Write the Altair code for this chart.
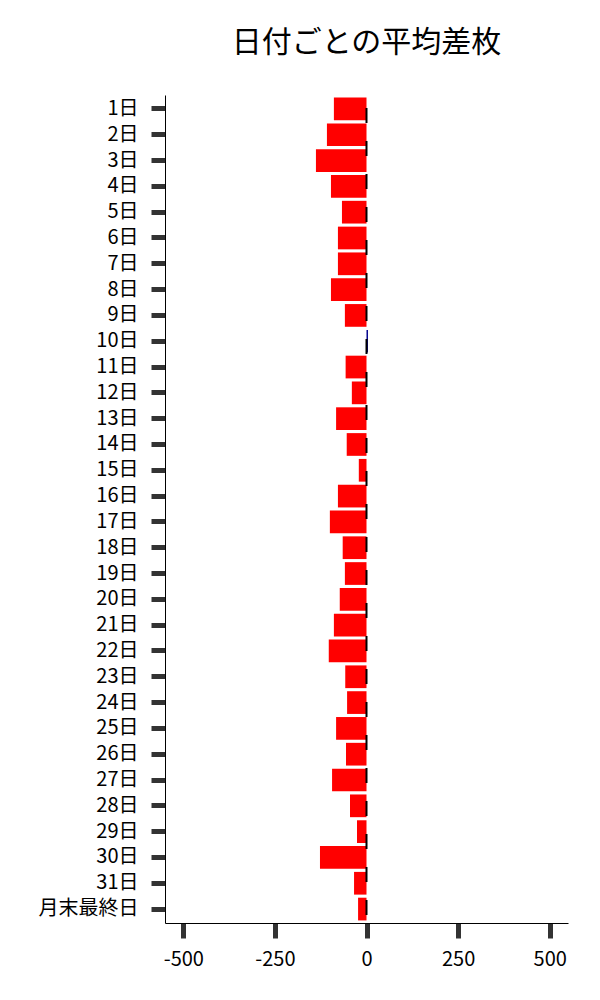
import altair as alt
import pandas as pd

days = [f"{i}日" for i in range(1, 32)] + ["月末最終日"]
values = [-89, -108, -138, -97, -67, -78, -78, -97, -59, 4,
          -57, -40, -83, -54, -21, -78, -100, -65, -59, -73,
          -89, -103, -58, -53, -83, -56, -94, -45, -26, -127,
          -34, -23]
x_ticks = [-500, -250, 0, 250, 500]

df = pd.DataFrame({"day": days, "value": values})
zero = pd.DataFrame({"x": [0]})

FONT = "Noto Sans CJK JP"

bars = alt.Chart(df).mark_bar().encode(
    y=alt.Y("day:N", sort=days, title=None,
            scale=alt.Scale(paddingInner=0.12, paddingOuter=0.1),
            axis=alt.Axis(labelFontSize=20, labelPadding=13, tickSize=14,
                          tickWidth=5, tickColor="#333333", domainColor="black",
                          labelColor="black")),
    x=alt.X("value:Q", title=None,
            scale=alt.Scale(domain=[-550, 550], nice=False),
            axis=alt.Axis(values=x_ticks, labelFontSize=20, labelPadding=11,
                          labelExpr="toString(datum.value)",
                          tickSize=15, tickWidth=5, tickColor="#333333",
                          domainColor="black", labelColor="black")),
    color=alt.condition(alt.datum.value > 0, alt.value("#00008b"), alt.value("#ff0000")),
)

rule = alt.Chart(zero).mark_rule(color="black", strokeWidth=2,
                                 strokeDash=[15, 18], strokeDashOffset=20).encode(
    x="x:Q"
)

chart = alt.layer(bars, rule).properties(
    width=403, height=828,
    title=alt.TitleParams("日付ごとの平均差枚", fontSize=30, font=FONT,
                          fontWeight="normal", anchor="middle", frame="group",
                          offset=36, color="black"),
    padding={"left": 30, "top": 20, "right": 10, "bottom": 5},
).configure(font=FONT).configure_view(stroke=None).configure_axis(grid=False)

chart.save("out.html", embed_options={"renderer": "svg", "actions": False})
